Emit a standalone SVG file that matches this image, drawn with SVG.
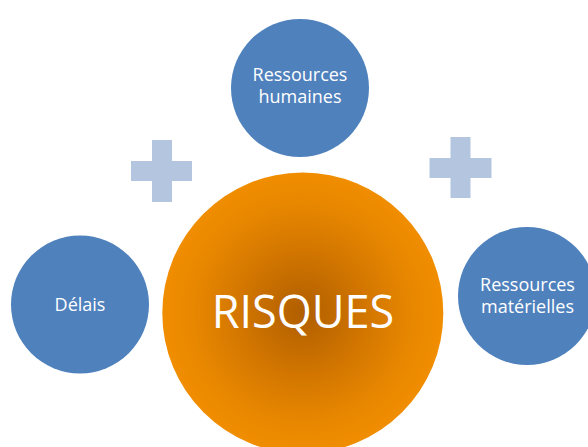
<svg xmlns="http://www.w3.org/2000/svg" width="588" height="447" viewBox="0 0 588 447">
<style>
.blue{fill:#4F81BD}
.plus{fill:#B4C5E0}
.lbl{font-family:"Open Sans","Noto Sans",sans-serif;fill:#FFFFFF;text-anchor:middle}
.s{font-size:18px}
.big{font-size:45px}
</style>
<defs>
<radialGradient id="og" cx="0.5" cy="0.5" r="0.5">
<stop offset="0" stop-color="#B05E00"/>
<stop offset="0.45" stop-color="#D27600"/>
<stop offset="0.8" stop-color="#E98800"/>
<stop offset="1" stop-color="#F08D00"/>
</radialGradient>
</defs>
<rect width="588" height="447" fill="#FFFFFF"/>
<g id="plus-left">
<rect class="plus" x="152" y="140" width="20" height="62"/>
<rect class="plus" x="131" y="161" width="61" height="20"/>
</g>
<g id="plus-right">
<rect class="plus" x="450.5" y="137" width="20" height="61"/>
<rect class="plus" x="429.5" y="158" width="62" height="20"/>
</g>
<g id="connectors"></g>
<g id="risques">
<circle cx="302.8" cy="313" r="140.5" fill="url(#og)"/>
<text class="lbl big" x="303" y="328">RISQUES</text>
</g>
<g id="ressources-humaines">
<circle class="blue" cx="300" cy="88" r="69"/>
<text class="lbl s" x="300" y="81">Ressources</text>
<text class="lbl s" x="300" y="103">humaines</text>
</g>
<g id="delais">
<circle class="blue" cx="80" cy="304.5" r="69"/>
<text class="lbl s" x="80" y="311">Délais</text>
</g>
<g id="ressources-materielles">
<circle class="blue" cx="527" cy="296" r="69"/>
<text class="lbl s" x="527.5" y="291">Ressources</text>
<text class="lbl s" x="527.5" y="313">matérielles</text>
</g>
</svg>
